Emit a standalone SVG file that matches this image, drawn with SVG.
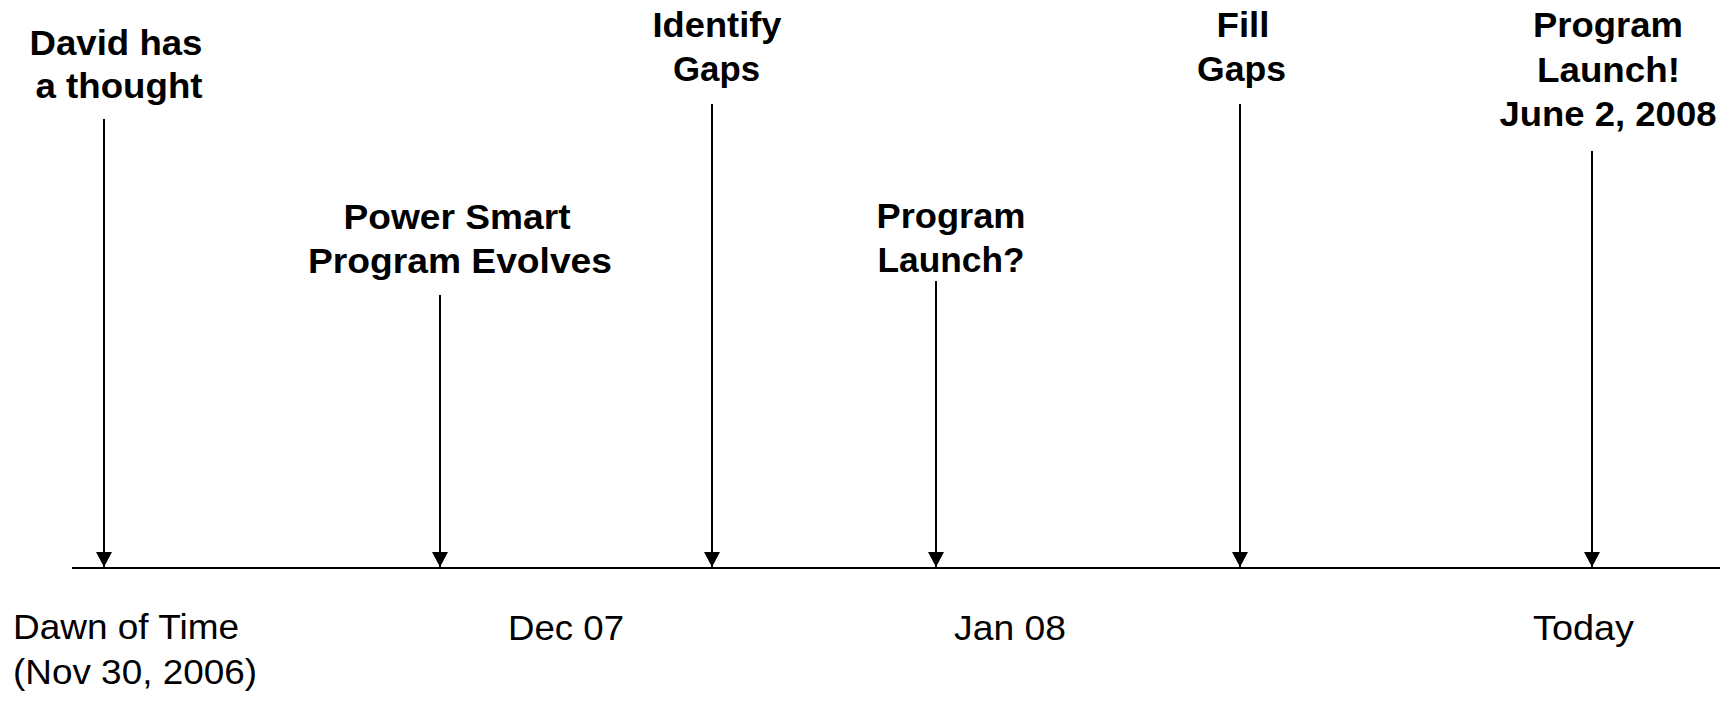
<svg xmlns="http://www.w3.org/2000/svg" width="1733" height="703" viewBox="0 0 1733 703">
<style>
.t{font-family:"Liberation Sans",Arial,sans-serif;font-size:35px;fill:#000}
.b{font-weight:bold;text-anchor:middle}
.c{stroke:#000;stroke-width:2;fill:none}
</style>
<defs>
<marker id="ah" markerUnits="userSpaceOnUse" markerWidth="15" markerHeight="16" refX="15" refY="8" orient="auto" viewBox="0 0 15 16">
<path d="M0,0 L15,8 L0,16 z" fill="#000"/>
</marker>
</defs>
<rect width="1733" height="703" fill="#fff"/>
<g id="connectors">
<line id="axis" class="c" x1="72" y1="568" x2="1720" y2="568"/>
<line class="c" x1="104" y1="119" x2="104" y2="567" marker-end="url(#ah)"/>
<line class="c" x1="440" y1="295" x2="440" y2="567" marker-end="url(#ah)"/>
<line class="c" x1="712" y1="104" x2="712" y2="567" marker-end="url(#ah)"/>
<line class="c" x1="936" y1="281" x2="936" y2="567" marker-end="url(#ah)"/>
<line class="c" x1="1240" y1="104" x2="1240" y2="567" marker-end="url(#ah)"/>
<line class="c" x1="1592" y1="151" x2="1592" y2="567" marker-end="url(#ah)"/>
</g>
<g id="n-david">
<text class="t b" x="116" y="55" textLength="173" lengthAdjust="spacingAndGlyphs">David has</text>
<text class="t b" x="119" y="98" textLength="167" lengthAdjust="spacingAndGlyphs">a thought</text>
</g>
<g id="n-power">
<text class="t b" x="457" y="229" textLength="227" lengthAdjust="spacingAndGlyphs">Power Smart</text>
<text class="t b" x="460" y="273" textLength="304" lengthAdjust="spacingAndGlyphs">Program Evolves</text>
</g>
<g id="n-identify">
<text class="t b" x="717" y="37" textLength="129" lengthAdjust="spacingAndGlyphs">Identify</text>
<text class="t b" x="716.5" y="81" textLength="87" lengthAdjust="spacingAndGlyphs">Gaps</text>
</g>
<g id="n-launchq">
<text class="t b" x="951" y="228" textLength="149" lengthAdjust="spacingAndGlyphs">Program</text>
<text class="t b" x="951" y="272" textLength="147" lengthAdjust="spacingAndGlyphs">Launch?</text>
</g>
<g id="n-fill">
<text class="t b" x="1243" y="37" textLength="53" lengthAdjust="spacingAndGlyphs">Fill</text>
<text class="t b" x="1241.5" y="81" textLength="89" lengthAdjust="spacingAndGlyphs">Gaps</text>
</g>
<g id="n-launch">
<text class="t b" x="1608" y="37" textLength="150" lengthAdjust="spacingAndGlyphs">Program</text>
<text class="t b" x="1608.5" y="81.5" textLength="143" lengthAdjust="spacingAndGlyphs">Launch!</text>
<text class="t b" x="1608" y="126" textLength="217" lengthAdjust="spacingAndGlyphs">June 2, 2008</text>
</g>
<g id="n-dawn">
<text class="t" x="13" y="639" textLength="226" lengthAdjust="spacingAndGlyphs">Dawn of Time</text>
<text class="t" x="13" y="684" textLength="244" lengthAdjust="spacingAndGlyphs">(Nov 30, 2006)</text>
</g>
<g id="n-dec">
<text class="t" x="508" y="640" textLength="116" lengthAdjust="spacingAndGlyphs">Dec 07</text>
</g>
<g id="n-jan">
<text class="t" x="954" y="640" textLength="112" lengthAdjust="spacingAndGlyphs">Jan 08</text>
</g>
<g id="n-today">
<text class="t" x="1533" y="640" textLength="101" lengthAdjust="spacingAndGlyphs">Today</text>
</g>
</svg>
